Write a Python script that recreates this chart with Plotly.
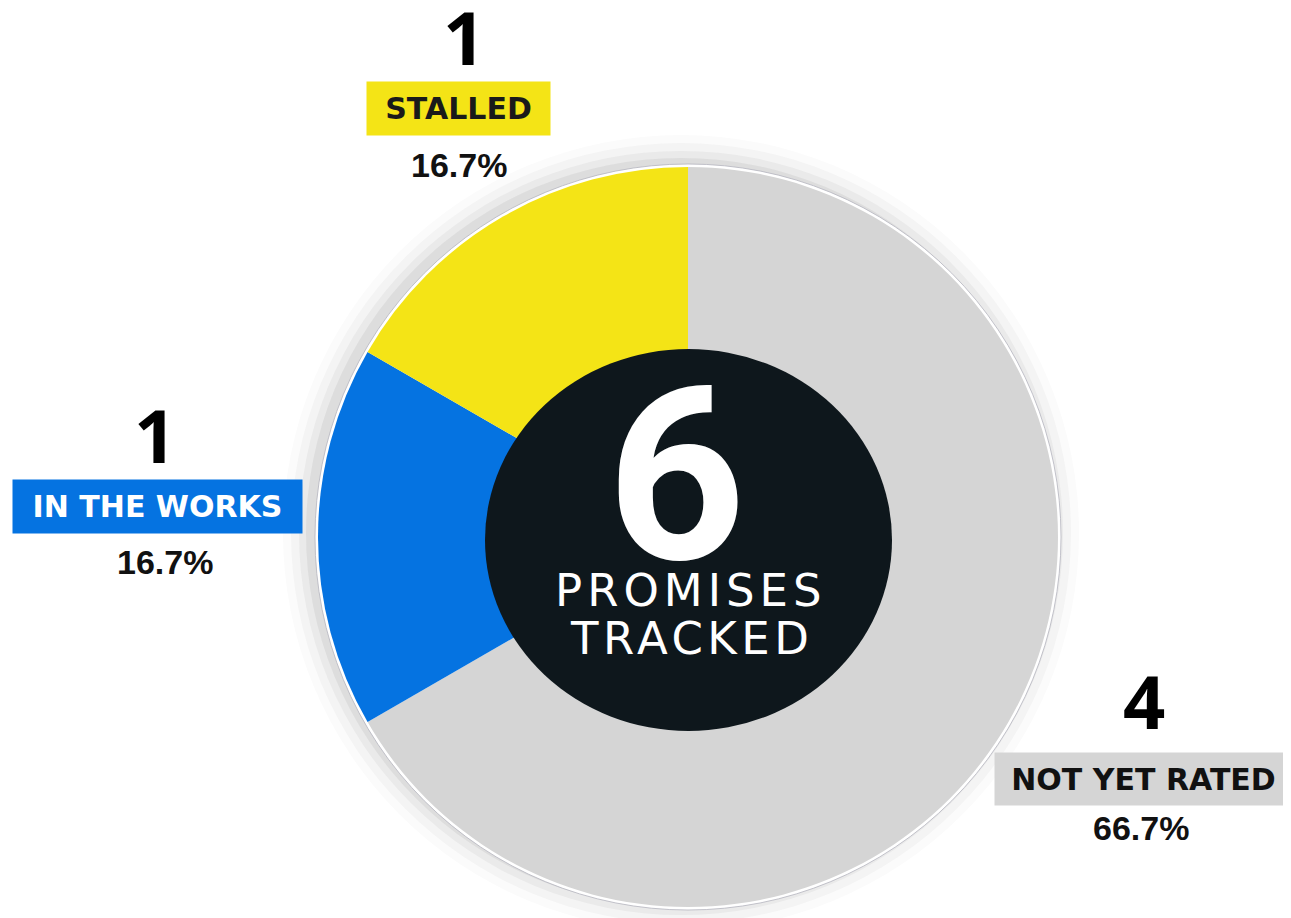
import plotly.graph_objects as go

# ---- data ----
labels = ["NOT YET RATED", "IN THE WORKS", "STALLED"]
values = [4, 1, 1]
colors = ["#d5d5d5", "#0573e1", "#f4e416"]
label_text_colors = ["#111111", "#ffffff", "#1a1a1a"]
center_caption = ["PROMISES", "TRACKED"]

OFF = 8  # page body margin
SW, SH = 1291, 918
W, H = SW - OFF, SH - OFF
total = sum(values)

def px(x, y):
    """screen pixel -> paper coords"""
    return (x - OFF) / W, 1 - (y - OFF) / H

# pie geometry (screen pixels)
cx, cy, R = 688, 537, 370

dx0, dy1 = px(cx - R, cy - R)
dx1, dy0 = px(cx + R, cy + R)

fig = go.Figure()
fig.add_trace(go.Pie(
    labels=labels, values=values, sort=False, direction="clockwise", rotation=0,
    marker=dict(colors=colors, line=dict(width=0)),
    textinfo="none", hoverinfo="label+value+percent", showlegend=False,
    domain=dict(x=[dx0, dx1], y=[dy0, dy1]),
))

shapes = []
# soft shadow rings behind the pie
for dr, a in [(28, 0.02), (20, 0.035), (12, 0.05), (5, 0.07)]:
    x0, y1 = px(cx - R - dr - 7, cy - R - dr - 4)
    x1, y0 = px(cx + R + dr - 7, cy + R + dr - 4)
    shapes.append(dict(type="circle", xref="paper", yref="paper", x0=x0, x1=x1, y0=y0, y1=y1,
                       fillcolor=f"rgba(60,60,60,{a})", line=dict(width=0), layer="below"))
# white rim
x0, y1 = px(cx - R - 3, cy - R - 3)
x1, y0 = px(cx + R + 3, cy + R + 3)
shapes.append(dict(type="circle", xref="paper", yref="paper", x0=x0, x1=x1, y0=y0, y1=y1,
                   fillcolor="#ffffff", line=dict(color="rgba(180,180,190,0.8)", width=1), layer="below"))
# dark center
x0, y1 = px(485, 349)
x1, y0 = px(892, 731)
shapes.append(dict(type="circle", xref="paper", yref="paper", x0=x0, x1=x1, y0=y0, y1=y1,
                   fillcolor="#0e171c", line=dict(width=0), layer="above"))

ann = []
def add_text(x, y, text, size, color="#000000", family="Open Sans", weight="bold", **kw):
    ax, ay = px(x, y)
    ann.append(dict(x=ax, y=ay, xref="paper", yref="paper", text=text, showarrow=False,
                    xanchor="center", yanchor="middle",
                    font=dict(size=size, color=color, family=family, weight=weight), **kw))

# center texts
add_text(676, 476, str(total), 242, "#ffffff", "Roboto", "bold")
add_text(690, 590, f'<span style="letter-spacing:5px">{center_caption[0]}</span>', 45,
         "#ffffff", "DejaVu Sans", "normal")
add_text(691, 638, f'<span style="letter-spacing:4.5px">{center_caption[1]}</span>', 45,
         "#ffffff", "DejaVu Sans", "normal")

# outside label groups: number, box label, percent
groups = {
    "STALLED": dict(num=(464, 36), box=(458.5, 108.5, 183, 53), pct=(459, 165)),
    "IN THE WORKS": dict(num=(155, 434), box=(157.5, 506.5, 289, 53), pct=(165, 562)),
    "NOT YET RATED": dict(num=(1144, 700), box=(1143.5, 779, 297, 52), pct=(1141, 828)),
}
for lab, val, col, tcol in zip(labels, values, colors, label_text_colors):
    g = groups[lab]
    add_text(*g["num"], str(val), 74, "#000000", "Open Sans", "bold")
    bx, by, bw, bh = g["box"]
    add_text(bx, by, lab, 30, tcol, "DejaVu Sans", "bold",
             bgcolor=col, width=bw, height=bh, borderpad=0, align="center", valign="middle")
    add_text(*g["pct"], f"{val / total * 100:.1f}%", 34, "#111111", "Liberation Sans", "bold")

fig.update_layout(
    width=W, height=H, autosize=False,
    margin=dict(l=0, r=0, t=0, b=0),
    paper_bgcolor="#ffffff", plot_bgcolor="#ffffff",
    shapes=shapes, annotations=ann,
)
fig.write_html("out.html")
